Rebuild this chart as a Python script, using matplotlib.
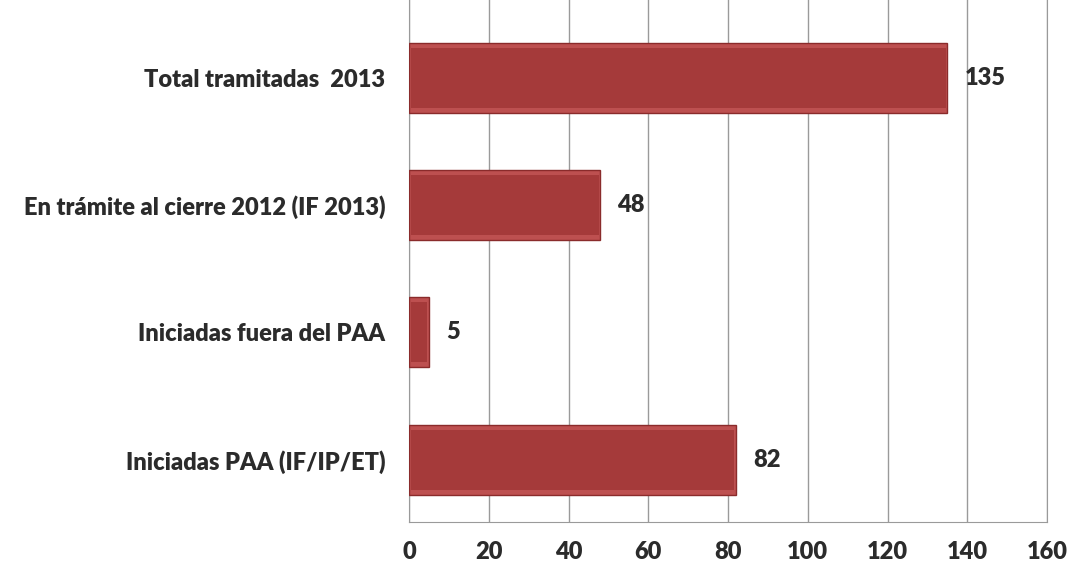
import matplotlib.pyplot as plt

# data (bottom to top)
categories = ['Iniciadas PAA (IF/IP/ET)', 'Iniciadas fuera del PAA',
              'En trámite al cierre 2012 (IF 2013)', 'Total tramitadas  2013']
values = [82, 5, 48, 135]
xticks = [0, 20, 40, 60, 80, 100, 120, 140, 160]

plt.rcParams['font.family'] = ['Lato', 'DejaVu Sans']
text_color = '#2b2b2b'
fsize = 17
fweight = 'heavy'

fig = plt.figure(figsize=(10.69, 5.72), dpi=100)
ax = fig.add_axes([409 / 1069, 50 / 572, 638 / 1069, 522 / 572])

pos = list(range(len(categories)))
# outer rim a bit lighter, inner face darker red
ax.barh(pos, values, height=0.55, color='#bd5050', edgecolor='#8a2b2b',
        linewidth=1.0, zorder=3)
ax.barh(pos, [v - 0.9 for v in values], left=0.45, height=0.47,
        color='#a53a3a', linewidth=0, zorder=4)

for p, v in zip(pos, values):
    ax.text(v + 4.3, p, str(v), va='center', ha='left', fontsize=fsize,
            fontweight=fweight, color=text_color)

ax.set_xlim(0, 160)
ax.set_ylim(-0.49, 3.61)
ax.set_xticks(xticks)
ax.set_xticklabels([str(t) for t in xticks], fontsize=fsize, fontweight=fweight,
                   color=text_color)
ax.set_yticks(pos)
ax.set_yticklabels(categories, fontsize=fsize, fontweight=fweight, color=text_color)
ax.tick_params(axis='x', length=0, pad=14)
ax.tick_params(axis='y', length=0, pad=17)

ax.grid(axis='x', color='#9a9a9a', linewidth=1, zorder=0)
ax.spines['top'].set_visible(False)
for side in ['left', 'bottom', 'right']:
    ax.spines[side].set_color('#9a9a9a')

fig.savefig('out.png', dpi=100)
